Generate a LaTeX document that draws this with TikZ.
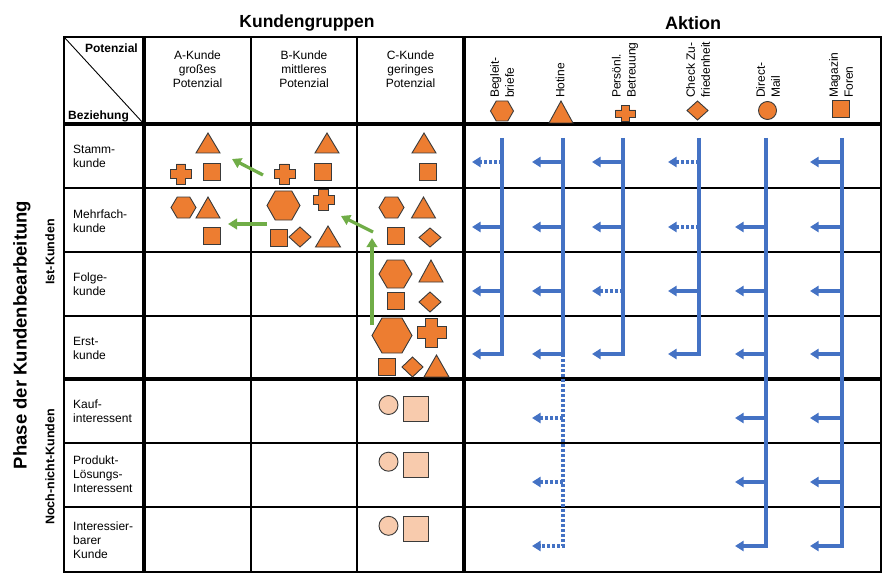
\documentclass[tikz,border=0pt]{standalone}
\usepackage{fontspec}
\setmainfont{Liberation Sans}
\usetikzlibrary{arrows.meta}
\definecolor{orng}{HTML}{ED7D31}
\definecolor{peach}{HTML}{F8CBAD}
\definecolor{blu}{HTML}{4472C4}
\definecolor{grn}{HTML}{70AD47}
\definecolor{edgec}{HTML}{3A3A3A}
\tikzset{
  shp/.style={draw=edgec, line width=0.9pt, fill=orng, line join=miter},
  gridthin/.style={line width=1.5pt, black},
  gridthick/.style={line width=3.6pt, black},
  blarrow/.style={line width=3.3pt, blu, -{Triangle[length=8.5pt,width=10pt]}},
  bldot/.style={dash pattern=on 3pt off 2pt},
  grarrow/.style={line width=3.3pt, grn, -{Triangle[length=9pt,width=10.5pt]}},
  lbl/.style={inner sep=0pt, align=left, font=\fontsize{12}{14}\selectfont},
  colhd/.style={inner sep=0pt, align=center, font=\fontsize{12}{14}\selectfont},
  acthd/.style={inner sep=0pt, align=left, rotate=90, anchor=west, font=\fontsize{12}{15}\selectfont},
  bigtitle/.style={inner sep=0pt, font=\bfseries\fontsize{17.5}{20}\selectfont},
  grouptitle/.style={inner sep=0pt, rotate=90, font=\bfseries\fontsize{12.5}{14}\selectfont},
}
% shapes: [fill]{x}{y}{w}{h}
\newcommand\shHex[5][orng]{\path[shp,fill=#1] ({#2-#4/2},#3) -- ({#2-#4/4},{#3-#5/2}) -- ({#2+#4/4},{#3-#5/2}) -- ({#2+#4/2},#3) -- ({#2+#4/4},{#3+#5/2}) -- ({#2-#4/4},{#3+#5/2}) -- cycle;}
\newcommand\shTri[5][orng]{\path[shp,fill=#1] (#2,{#3-#5/2}) -- ({#2+#4/2},{#3+#5/2}) -- ({#2-#4/2},{#3+#5/2}) -- cycle;}
\newcommand\shDia[5][orng]{\path[shp,fill=#1] ({#2-#4/2},#3) -- (#2,{#3-#5/2}) -- ({#2+#4/2},#3) -- (#2,{#3+#5/2}) -- cycle;}
\newcommand\shCrs[5][orng]{\path[shp,fill=#1]
  ({#2-#4*0.22},{#3-#5/2}) -- ({#2+#4*0.22},{#3-#5/2}) -- ({#2+#4*0.22},{#3-#5*0.22}) --
  ({#2+#4/2},{#3-#5*0.22}) -- ({#2+#4/2},{#3+#5*0.22}) -- ({#2+#4*0.22},{#3+#5*0.22}) --
  ({#2+#4*0.22},{#3+#5/2}) -- ({#2-#4*0.22},{#3+#5/2}) -- ({#2-#4*0.22},{#3+#5*0.22}) --
  ({#2-#4/2},{#3+#5*0.22}) -- ({#2-#4/2},{#3-#5*0.22}) -- ({#2-#4*0.22},{#3-#5*0.22}) -- cycle;}
\newcommand\shSq[4][orng]{\path[shp,fill=#1] ({#2-#4/2},{#3-#4/2}) rectangle ({#2+#4/2},{#3+#4/2});}
\newcommand\shCir[4][orng]{\path[shp,fill=#1] (#2,#3) circle[radius=#4pt];}

\begin{document}
\begin{tikzpicture}[x=1pt,y=-1pt]
\useasboundingbox (0,0) rectangle (896,588);

% ---------- titles
\node[bigtitle] (tk) at (307,23) {Kundengruppen};
\node[bigtitle, font=\bfseries\fontsize{18}{20}\selectfont] (ta) at (693,23) {Aktion};
\node[bigtitle, rotate=90, font=\bfseries\fontsize{18.5}{20}\selectfont] (tp) at (22,335) {Phase der Kundenbearbeitung};
\node[grouptitle] (gi) at (50,252) {Ist-Kunden};
\node[grouptitle] (gn) at (50,467) {Noch-nicht-Kunden};

% ---------- grid
\draw[gridthin] (64,37) rectangle (881,572);
\foreach \yy in {188,252,316,443,507} \draw[gridthin] (64,\yy) -- (881,\yy);
\foreach \xx in {251,357} \draw[gridthin] (\xx,37) -- (\xx,572);
\draw[line width=0.9pt] (64,37) -- (144,124);
\draw[gridthick] (64,124) -- (881,124);
\draw[gridthick] (64,379) -- (881,379);
\draw[gridthick] (144,37) -- (144,572);
\draw[gridthick] (464,37) -- (464,572);

% ---------- corner cell
\node[inner sep=0pt, anchor=base east, font=\bfseries\fontsize{12}{14}\selectfont] (pot) at (138,52.5) {Potenzial};
\node[inner sep=0pt, anchor=base west, font=\bfseries\fontsize{12}{14}\selectfont] (bez) at (68,119.5) {Beziehung};

% ---------- column heads
\node[colhd] (ca) at (197.5,69.5) {A-Kunde\\großes\\Potenzial};
\node[colhd] (cb) at (304,69.5) {B-Kunde\\mittleres\\Potenzial};
\node[colhd] (cc) at (410.5,69.5) {C-Kunde\\geringes\\Potenzial};

% ---------- action heads
\node[acthd] (h1) at (502,98) {Begleit-\\briefe};
\node[acthd] (h2) at (560,98) {Hotine};
\node[acthd] (h3) at (625,98) {Persönl.\\Betreuung};
\node[acthd] (h4) at (698,98) {Check Zu-\\friedenheit};
\node[acthd] (h5) at (768,98) {Direct-\\Mail};
\node[acthd] (h6) at (841,98) {Magazin\\Foren};
\shHex{502}{111}{23}{20}
\shTri{561}{112}{24}{22}
\shCrs{625.5}{113.5}{20}{16}
\shDia{697.5}{110.5}{21}{19}
\shCir{767.5}{110.5}{9}
\shSq{841}{109}{16.5}

% ---------- row labels
\node[lbl, anchor=west] (r1) at (73,156) {Stamm-\\kunde};
\node[lbl, anchor=west] (r2) at (73,221) {Mehrfach-\\kunde};
\node[lbl, anchor=west] (r3) at (73,284) {Folge-\\kunde};
\node[lbl, anchor=west] (r4) at (73,348) {Erst-\\kunde};
\node[lbl, anchor=west] (r5) at (73,411) {Kauf-\\interessent};
\node[lbl, anchor=west] (r6) at (73,474) {Produkt-\\Lösungs-\\Interessent};
\node[lbl, anchor=west] (r7) at (73,540) {Interessier-\\barer\\Kunde};

% ---------- shapes in grid
% Stamm
\shTri{208}{143}{24}{20} \shCrs{181}{174}{21}{20} \shSq{212}{172}{17}
\shTri{327}{143}{24}{20} \shCrs{284.5}{174}{21}{20} \shSq{322.5}{172}{17}
\shTri{424}{143}{24}{20} \shSq{427.5}{172}{17}
% Mehrfach
\shHex{183.5}{207.5}{25}{21} \shTri{208}{207.5}{24}{21} \shSq{212}{236}{17}
\shHex{283.5}{205.5}{33}{29} \shCrs{323.5}{200}{21}{21} \shSq{278.5}{237.5}{17}
\shDia{300}{237}{22}{20} \shTri{328}{236.5}{25}{21}
\shHex{391.5}{207.5}{25}{21} \shTri{423.5}{207.5}{24}{21} \shSq{395.5}{236}{17} \shDia{430}{237.5}{22}{19}
% Folge
\shHex{395.5}{274}{33}{28} \shTri{431}{271}{24}{22} \shSq{395.5}{300.5}{17} \shDia{430}{302}{22}{20}
% Erst
\shHex{392}{335.5}{40}{35} \shCrs{431.5}{332.5}{29}{29} \shSq{386.5}{366.5}{17}
\shDia{412.5}{367}{21}{20} \shTri{436.5}{366}{25}{22}
% Noch-nicht-Kunden
\shCir[peach]{388.5}{405}{9.5} \shSq[peach]{415.5}{408.5}{25}
\shCir[peach]{388.5}{461.7}{9.5} \shSq[peach]{415.5}{464.5}{25}
\shCir[peach]{388.5}{525.8}{9.5} \shSq[peach]{415.5}{528.5}{25}

% ---------- green arrows
\coordinate (g1s) at (263,175); \coordinate (g1e) at (232,159);
\coordinate (g2s) at (267,224); \coordinate (g2e) at (228,224);
\coordinate (g3s) at (373,232); \coordinate (g3e) at (341,216);
\coordinate (g4s) at (372,325); \coordinate (g4e) at (372,238);
\draw[grarrow] (g1s) -- (g1e);
\draw[grarrow] (g2s) -- (g2e);
\draw[grarrow] (g3s) -- (g3e);
\draw[grarrow] (g4s) -- (g4e);

% ---------- blue action lines
% Begleitbriefe
\draw[blarrow] (502,138) -- (502,354) -- (472,354);
\draw[blarrow, bldot] (502,162) -- (472,162);
\foreach \yy in {227,291} \draw[blarrow] (502,\yy) -- (472,\yy);
% Hotine
\draw[blarrow] (563,138) -- (563,354) -- (532,354);
\draw[blarrow, bldot] (563,354) -- (563,546) -- (532,546);
\foreach \yy in {162,227,291} \draw[blarrow] (563,\yy) -- (532,\yy);
\foreach \yy in {418,482} \draw[blarrow, bldot] (563,\yy) -- (532,\yy);
% Persoenl. Betreuung
\draw[blarrow] (623,138) -- (623,354) -- (592,354);
\foreach \yy in {162,227} \draw[blarrow] (623,\yy) -- (592,\yy);
\draw[blarrow, bldot] (623,291) -- (592,291);
% Check Zufriedenheit
\draw[blarrow] (699,138) -- (699,354) -- (668,354);
\foreach \yy in {162,227} \draw[blarrow, bldot] (699,\yy) -- (668,\yy);
\draw[blarrow] (699,291) -- (668,291);
% Direct-Mail
\draw[blarrow] (766,138) -- (766,546) -- (735,546);
\foreach \yy in {227,291,354,418,482} \draw[blarrow] (766,\yy) -- (735,\yy);
% Magazin Foren
\draw[blarrow] (842,138) -- (842,546) -- (810,546);
\foreach \yy in {162,227,291,354,418,482} \draw[blarrow] (842,\yy) -- (810,\yy);
\end{tikzpicture}
\end{document}
